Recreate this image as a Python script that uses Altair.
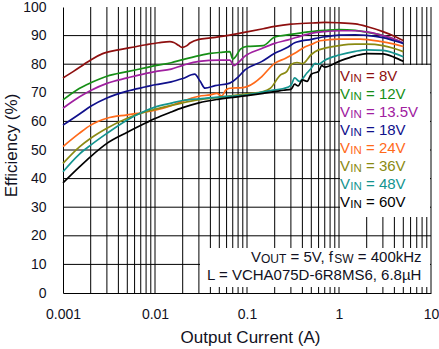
import altair as alt
import pandas as pd

# ---------------- data ----------------
SERIES = ["8V", "12V", "13.5V", "18V", "24V", "36V", "48V", "60V"]
COLORS = ["#8e0f0f", "#168f16", "#a020a0", "#10108c", "#ff6a1a", "#8a8a12", "#14948f", "#000000"]

I_8V = [0.001, 0.0013, 0.0017, 0.002, 0.0027, 0.004, 0.005, 0.008, 0.011, 0.0145, 0.016, 0.018, 0.0196, 0.022, 0.024, 0.03, 0.04, 0.06, 0.1, 0.15, 0.2, 0.3, 0.5, 0.7, 1, 1.5, 2, 3, 4, 5]
E_8V = [75.2, 77.5, 80.0, 81.5, 83.7, 85.0, 85.6, 86.8, 87.5, 87.9, 87.6, 86.6, 85.9, 86.4, 87.4, 88.7, 89.2, 90.0, 91.3, 92.4, 93.2, 94.0, 94.4, 94.6, 94.5, 94.1, 93.2, 91.4, 89.8, 88.3]

I_12V = [0.001, 0.0015, 0.002, 0.003, 0.005, 0.008, 0.01, 0.015, 0.02, 0.03, 0.04, 0.055, 0.065, 0.07, 0.075, 0.085, 0.1, 0.15, 0.2, 0.3, 0.5, 0.7, 1, 1.5, 2, 3, 4, 5]
E_12V = [67.5, 71.5, 73.5, 75.8, 77.4, 78.8, 79.5, 80.5, 81.6, 83.0, 83.8, 84.2, 84.4, 81.8, 82.6, 85.3, 86.2, 86.5, 89.5, 90.4, 91.4, 91.8, 92.1, 91.8, 91.2, 90.0, 88.7, 87.3]

I_135V = [0.001, 0.0015, 0.002, 0.003, 0.005, 0.008, 0.01, 0.015, 0.02, 0.03, 0.05, 0.065, 0.072, 0.08, 0.095, 0.14, 0.2, 0.28, 0.4, 0.5, 0.7, 1, 1.5, 2, 3, 4, 5]
E_135V = [64.6, 68.5, 70.8, 73.3, 75.2, 76.8, 77.4, 78.3, 79.6, 81.0, 81.4, 81.4, 79.5, 80.5, 82.8, 85.3, 87.3, 88.5, 90.0, 90.8, 91.4, 91.7, 91.7, 91.3, 90.0, 88.8, 87.4]

I_18V = [0.001, 0.0015, 0.002, 0.003, 0.005, 0.008, 0.01, 0.015, 0.02, 0.027, 0.031, 0.035, 0.045, 0.065, 0.08, 0.095, 0.144, 0.2, 0.28, 0.33, 0.5, 0.7, 1, 1.5, 2, 3, 4, 5]
E_18V = [58.7, 62.5, 65.3, 68.2, 70.6, 72.1, 72.8, 73.8, 75.0, 76.5, 74.0, 71.6, 72.5, 73.4, 75.5, 78.0, 80.9, 83.8, 86.0, 87.5, 88.7, 89.6, 90.2, 90.3, 90.1, 89.3, 88.2, 87.3]

I_24V = [0.001, 0.0015, 0.002, 0.003, 0.005, 0.008, 0.01, 0.015, 0.02, 0.03, 0.04, 0.047, 0.053, 0.059, 0.065, 0.09, 0.12, 0.144, 0.2, 0.26, 0.33, 0.43, 0.52, 0.62, 1, 1.7, 2.8, 4, 5]
E_24V = [51.2, 55.8, 58.7, 61.1, 62.3, 63.3, 63.9, 65.5, 67.1, 68.8, 69.3, 69.8, 68.9, 71.0, 71.6, 71.8, 73.5, 75.6, 80.3, 82.0, 83.8, 86.1, 87.1, 88.2, 88.8, 88.8, 88.0, 87.0, 86.2]

I_36V = [0.001, 0.0015, 0.002, 0.003, 0.005, 0.008, 0.01, 0.015, 0.02, 0.03, 0.05, 0.1, 0.15, 0.18, 0.23, 0.27, 0.3, 0.35, 0.4, 0.5, 0.6, 0.7, 1, 1.5, 2, 3, 4, 5]
E_36V = [45.3, 51.0, 54.1, 57.6, 61.1, 63.4, 64.2, 65.6, 66.5, 67.6, 68.4, 69.6, 70.4, 71.6, 76.2, 77.4, 79.8, 80.6, 80.2, 83.4, 85.0, 85.6, 86.5, 87.0, 87.0, 86.5, 85.5, 84.4]

I_48V = [0.001, 0.0015, 0.002, 0.003, 0.005, 0.008, 0.01, 0.015, 0.02, 0.03, 0.05, 0.1, 0.15, 0.2, 0.25, 0.3, 0.33, 0.37, 0.45, 0.5, 0.55, 0.6, 0.7, 1, 1.5, 2, 3, 4, 5]
E_48V = [42.4, 48.5, 51.7, 55.8, 60.5, 63.8, 65.0, 66.4, 67.3, 67.9, 68.5, 69.3, 70.3, 71.0, 71.5, 72.6, 75.2, 74.0, 77.0, 78.6, 80.3, 80.0, 81.4, 83.2, 84.5, 85.0, 84.8, 83.8, 82.6]

I_60V = [0.001, 0.0015, 0.002, 0.003, 0.005, 0.008, 0.01, 0.015, 0.02, 0.03, 0.05, 0.1, 0.15, 0.2, 0.25, 0.3, 0.33, 0.36, 0.4, 0.45, 0.5, 0.6, 0.65, 0.7, 1, 1.5, 2, 3, 4, 5]
E_60V = [38.5, 44.0, 47.7, 52.3, 56.2, 59.5, 61.0, 63.3, 64.8, 66.5, 67.8, 69.0, 69.8, 70.4, 70.9, 71.2, 73.0, 72.4, 74.5, 74.0, 76.5, 77.5, 79.5, 79.0, 81.0, 82.9, 83.7, 83.6, 82.4, 81.0]

CURRENTS = [I_8V, I_12V, I_135V, I_18V, I_24V, I_36V, I_48V, I_60V]
EFFS = [E_8V, E_12V, E_135V, E_18V, E_24V, E_36V, E_48V, E_60V]

X_TICKS = [0.001, 0.01, 0.1, 1, 10]
Y_TICKS = [0, 10, 20, 30, 40, 50, 60, 70, 80, 90, 100]
GRID_X = [k * 10.0 ** e for e in range(-3, 1) for k in range(2, 11)]
GRID_Y = [10, 20, 30, 40, 50, 60, 70, 80, 90]

X_TITLE = "Output Current (A)"
Y_TITLE = "Efficiency (%)"
NOTE_L = "L = VCHA075D-6R8MS6, 6.8\u00b5H"

# ---------------- build ----------------
rows = []
for name, cur, eff in zip(SERIES, CURRENTS, EFFS):
    for i, e in zip(cur, eff):
        rows.append({"series": name, "I": i, "eff": e})
df = pd.DataFrame(rows)

W, H = 368, 286
FONT = "Liberation Sans"
TXT = "#111122"

x_scale = alt.Scale(type="log", domain=[0.001, 10], nice=False)
y_scale = alt.Scale(domain=[0, 100], nice=False, zero=False)

x_axis = alt.Axis(values=X_TICKS, format="~g", title=X_TITLE, grid=False, ticks=False, tickSize=0,
                  domainColor="black", domainWidth=1, labelFont=FONT, labelFontSize=14,
                  labelColor=TXT, labelPadding=14, labelFlush=False, labelOverlap=False,
                  labelBound=False, titleFont=FONT, titleFontSize=17, titleFontWeight="normal",
                  titleColor=TXT, titleX=187, titleY=44, titleBaseline="middle", titleAlign="center")
y_axis = alt.Axis(values=Y_TICKS, title=Y_TITLE, grid=False, ticks=False, tickSize=0,
                  domainColor="black", domainWidth=1, labelFont=FONT, labelFontSize=14,
                  labelColor=TXT, labelPadding=17, labelFlush=False, labelOverlap=False,
                  titleFont=FONT, titleFontSize=17, titleFontWeight="normal", titleColor=TXT,
                  titleX=-52, titleY=138, titleBaseline="middle", titleAlign="center", titleAngle=270)

X = lambda: alt.X("I:Q", scale=x_scale, axis=x_axis)
Y = lambda: alt.Y("eff:Q", scale=y_scale, axis=y_axis)

grid_x = alt.Chart(pd.DataFrame({"I": GRID_X})).mark_rule(color="black", strokeWidth=1).encode(x=X())
grid_y = alt.Chart(pd.DataFrame({"eff": GRID_Y})).mark_rule(color="black", strokeWidth=1).encode(y=Y())

lines = alt.Chart(df).mark_line(strokeWidth=1.7, interpolate="monotone").encode(
    x=X(), y=Y(),
    color=alt.Color("series:N", scale=alt.Scale(domain=SERIES, range=COLORS), legend=None),
    order=alt.Order("I:Q"),
)

one = pd.DataFrame({"k": [0]})

def box(x1, x2, y1, y2):
    return alt.Chart(one).mark_rect(color="white").encode(
        x=alt.value(x1), x2=alt.value(x2), y=alt.value(y1), y2=alt.value(y2))

def txt(s, x, y, size, color, align="left"):
    return alt.Chart(one).mark_text(text=s, font=FONT, fontSize=size, color=color,
                                    align=align, baseline="alphabetic").encode(
        x=alt.value(x), y=alt.value(y))

layers = [grid_x, grid_y, lines, box(277, 367, 58, 210), box(137, 367, 241, 280)]

BIG, SMALL = 15, 11.5
for i, (name, col) in enumerate(zip(SERIES, COLORS)):
    yb = 74 + 18.07 * i
    layers.append(txt("V", 277, yb, BIG, col))
    layers.append(txt("IN", 287.3, yb + 1, SMALL, col))
    layers.append(txt("= " + name, 303, yb, BIG, col))

yb1 = 255
layers += [
    txt("V", 188, yb1, BIG, TXT),
    txt("OUT", 198, yb1 + 1, 12, TXT),
    txt("= 5V, f", 227.5, yb1, BIG, TXT),
    txt("SW", 271.3, yb1 + 1, 12, TXT),
    txt("= 400kHz", 294.8, yb1, BIG, TXT),
    txt(NOTE_L, 144, 273, BIG, TXT),
]

chart = alt.layer(*layers).properties(
    width=W, height=H,
    autosize=alt.AutoSizeParams(type="none"),
    padding={"left": 63, "top": 7, "right": 8, "bottom": 56},
    background="white",
).configure_view(stroke=None)

chart.save("out.html", embed_options={"renderer": "svg", "actions": False})
